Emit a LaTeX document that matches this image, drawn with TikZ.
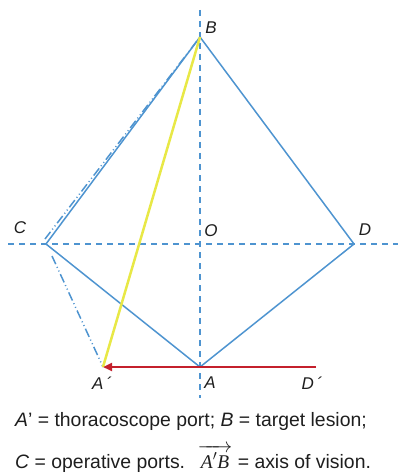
\documentclass[tikz,border=0pt]{standalone}
\usepackage{fontspec}
\setmainfont{Liberation Sans}
\newfontfamily\serifit{Liberation Serif}
\usepackage{amsmath}
\usetikzlibrary{arrows.meta}
\definecolor{lblue}{RGB}{78,148,208}
\definecolor{lyellow}{RGB}{232,232,70}
\definecolor{lred}{RGB}{196,32,44}
\definecolor{txt}{RGB}{30,30,30}
\begin{document}
\begin{tikzpicture}[x=1pt,y=-1pt,
  blueline/.style={draw=lblue,line width=1.5pt},
  axisline/.style={draw=lblue,line width=1.5pt,dash pattern=on 6pt off 5pt},
  ddline/.style={draw=lblue,line width=1.5pt,dash pattern=on 9pt off 3pt on 1pt off 3pt on 1pt off 3pt},
  lbl/.style={font=\fontsize{17}{19}\selectfont\itshape,text=txt,inner sep=0pt},
  caption/.style={font=\fontsize{19.4}{23}\selectfont,text=txt,inner sep=0pt,anchor=base west}]
\useasboundingbox (0,0) rectangle (398,473);
\coordinate (B) at (200,37);
\coordinate (C) at (46,244);
\coordinate (D) at (354,244);
\coordinate (A) at (200,367);
\coordinate (O) at (200,244);
\coordinate (Ap) at (103,367);
\coordinate (Dp) at (316,367);
\coordinate (vtop) at (200,10);
\coordinate (vbot) at (200,398);
\coordinate (hl) at (8,244);
\coordinate (hr) at (398,244);
\coordinate (cb) at (45,239);
\coordinate (ca) at (52,256);
% axes
\draw[axisline] (vtop) -- (vbot);
\draw[axisline] (hl) -- (hr);
% rhombus
\draw[blueline,line join=round] (B) -- (C) -- (A) -- (D) -- cycle;
% dash-dot lines
\draw[ddline] (cb) -- (B);
\draw[ddline] (ca) -- (Ap);
% yellow axis of vision
\draw[draw=lyellow,line width=2.5pt] (Ap) -- (B);
% red arrow
\draw[draw=lred,line width=2.5pt,-{Triangle[length=9pt,width=8pt]}] (Dp) -- (Ap);
% labels
\node[lbl] (lB) at (211,28) {B};
\node[lbl] (lC) at (20,228) {C};
\node[lbl] (lO) at (211,231) {O};
\node[lbl] (lD) at (365,230) {D};
\node[lbl] (lA) at (210,383) {A};
\node[lbl] (lAp) at (102,383) {A\,´};
\node[lbl] (lDp) at (312,383) {D\,´};
% captions
\node[caption] (cap1) at (15,426) {\textit{A}' = thoracoscope port; \textit{B} = target lesion;};
\node[caption] (cap2) at (15,468) {\textit{C} = operative ports. \ $\overrightarrow{\hbox{\raisebox{0pt}[16pt][0pt]{\,\serifit\itshape A\/$'$B\,}}}$ = axis of vision.};
\end{tikzpicture}
\end{document}
